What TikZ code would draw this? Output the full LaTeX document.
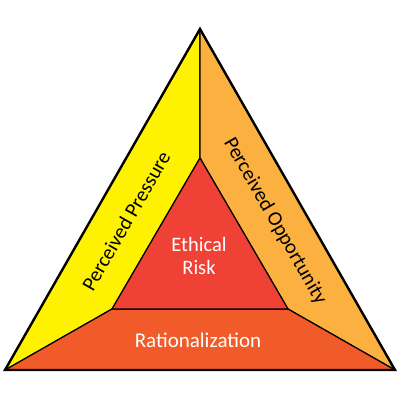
\documentclass[tikz,border=0pt]{standalone}
\usepackage{fontspec}
\setmainfont{Carlito}
\definecolor{cyel}{HTML}{FFF200}
\definecolor{copp}{HTML}{FBB040}
\definecolor{crat}{HTML}{F15A29}
\definecolor{crisk}{HTML}{EF4136}
\tikzset{
  band/.style={draw=black, line width=1.2pt, line join=round},
  lbl/.style={font=\fontsize{20.5}{23}\selectfont, align=center, inner sep=0pt},
}
\begin{document}
\begin{tikzpicture}[x=1pt,y=-1pt]
\useasboundingbox (0,0) rectangle (400,400);
\fill[white] (0,0) rectangle (400,400);
\coordinate (OA) at (200,29);
\coordinate (OL) at (5,370);
\coordinate (OR) at (395,370);
\coordinate (IA) at (200,158);
\coordinate (IL) at (112,309);
\coordinate (IR) at (288,309);
\filldraw[band, fill=cyel] (OA) -- (OL) -- (IL) -- (IA) -- cycle;
\filldraw[band, fill=copp] (OA) -- (IA) -- (IR) -- (OR) -- cycle;
\filldraw[band, fill=crat] (OL) -- (OR) -- (IR) -- (IL) -- cycle;
\filldraw[band, fill=crisk] (IA) -- (IL) -- (IR) -- cycle;
\draw[black, line width=2.4pt, line join=miter] (OA) -- (OL) -- (OR) -- cycle;
\node[lbl, rotate=60.2] (pp) at (126,221) {Perceived Pressure};
\node[lbl, rotate=-60.2] (po) at (275,221) {Perceived Opportunity};
\node[lbl, text=white] (er) at (199,256) {Ethical\\Risk};
\node[lbl, text=white, font=\fontsize{21}{23}\selectfont] (ra) at (198,340) {Rationalization};
\end{tikzpicture}
\end{document}
